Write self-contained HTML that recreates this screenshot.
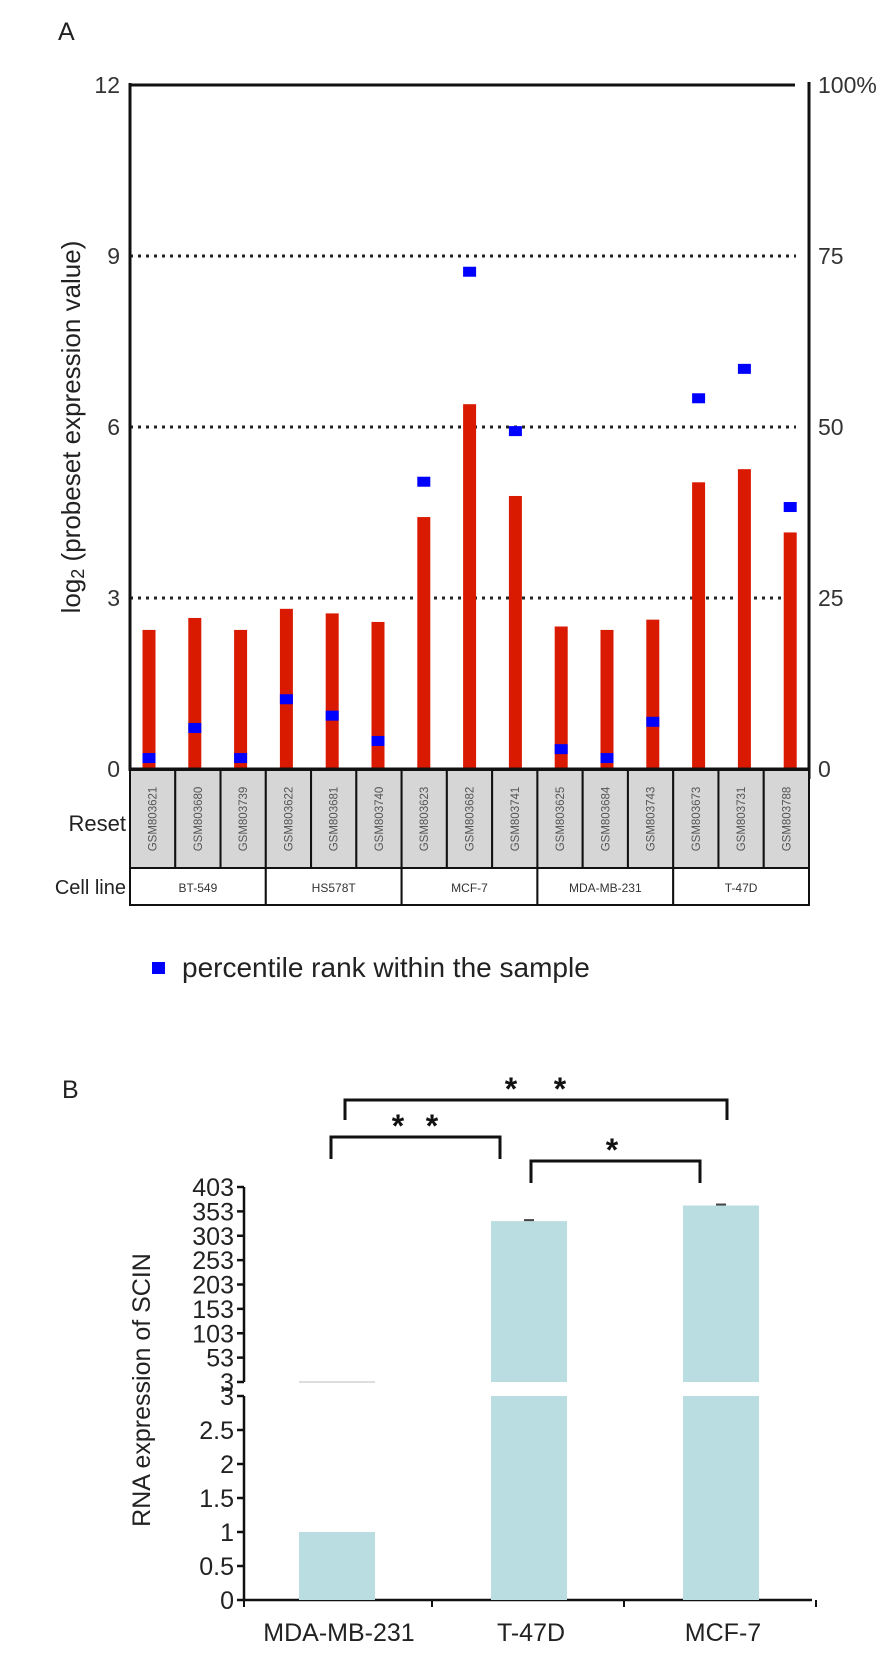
<!DOCTYPE html>
<html><head><meta charset="utf-8"><style>
html,body{margin:0;padding:0;background:#fff;}
svg{display:block;font-family:"Liberation Sans",sans-serif;}
</style></head><body>
<svg id="fig" width="891" height="1674" xmlns="http://www.w3.org/2000/svg">
<g id="panelA"></g>
<g id="panelB"></g>
</svg>
<script>
const samples=["GSM803621","GSM803680","GSM803739","GSM803622","GSM803681","GSM803740","GSM803623","GSM803682","GSM803741","GSM803625","GSM803684","GSM803743","GSM803673","GSM803731","GSM803788"];
const logValues=[2.44,2.65,2.44,2.81,2.73,2.58,4.42,6.4,4.79,2.5,2.44,2.62,5.03,5.26,4.15];
const percentiles=[1.6,6,1.6,10.2,7.8,4.1,42,72.7,49.4,2.9,1.6,6.9,54.2,58.5,38.3];
const cellLines=["BT-549","HS578T","MCF-7","MDA-MB-231","T-47D"];
const leftTicks=[0,3,6,9,12];
const rightTicks=["0","25","50","75","100%"];
const groupsB=["MDA-MB-231","T-47D","MCF-7"];
const valuesB=[1,333,365];
const upperTicks=[3,53,103,153,203,253,303,353,403];
const lowerTicks=[0,0.5,1,1.5,2,2.5,3];

const NS="http://www.w3.org/2000/svg";
function mk(parent,tag,attrs,text){const e=document.createElementNS(NS,tag);for(const k in attrs)e.setAttribute(k,attrs[k]);if(text!==undefined)e.textContent=text;parent.appendChild(e);return e;}

// ---------- Panel A ----------
const A=document.getElementById('panelA');
const ax0=130, ax1=809, y0=769, y12=85;
const yL=v=>y0-(v/12)*(y0-y12);
const yP=p=>y0-(p/100)*(y0-y12);
const cellW=(809-130)/15;
const xC=i=>149+i*45.8;

let t=mk(A,'text',{x:58,y:40,'font-size':25,fill:'#222'},'A');



leftTicks.forEach((v,i)=>{
  const y=yL(v);
  if(v>0&&v<12){const l=mk(A,'line',{x1:ax0,x2:796,y1:y,y2:y,stroke:'#222','stroke-width':3,'stroke-dasharray':'3 5'});
    
    }
  const tl=mk(A,'text',{x:120,y:y+8,'font-size':23,fill:'#333','text-anchor':'end'},String(v));
  
  
  const tr=mk(A,'text',{x:818,y:y+8,'font-size':23,fill:'#333'},rightTicks[i]);
  
  
});
let ln=mk(A,'line',{x1:ax0,x2:795,y1:y12,y2:y12,stroke:'#111','stroke-width':3});


ln=mk(A,'line',{x1:ax0,x2:ax0,y1:y12-2,y2:y0+2,stroke:'#111','stroke-width':3});


ln=mk(A,'line',{x1:ax1,x2:ax1,y1:y12-3,y2:y0+10,stroke:'#111','stroke-width':3});



t=mk(A,'text',{x:0,y:0,'font-size':26,fill:'#222','text-anchor':'middle',transform:'translate(80,427) rotate(-90)'});


t.innerHTML='log<tspan font-size="18" dy="4">2</tspan><tspan dy="-4"> (probeset expression value)</tspan>';

logValues.forEach((v,i)=>{
  const r=mk(A,'rect',{x:xC(i)-6.5,y:yL(v),width:13,height:y0-yL(v),fill:'#d91a00'});
  
  
});
percentiles.forEach((p,i)=>{
  const r=mk(A,'rect',{x:xC(i)-6.5,y:yP(p)-5,width:13,height:10,fill:'#0000ff'});
  
  
});
ln=mk(A,'line',{x1:ax0,x2:809,y1:y0,y2:y0,stroke:'#111','stroke-width':3});



// table
const tTop=770, tMid=868, tBot=905;
samples.forEach((s,i)=>{
  const x=130+i*cellW;
  const r=mk(A,'rect',{x:x,y:tTop,width:cellW,height:tMid-tTop,fill:'#d6d6d6',stroke:'#111','stroke-width':2});
  
  
  const tx=mk(A,'text',{x:0,y:0,'font-size':11.5,fill:'#555','text-anchor':'middle',transform:`translate(${x+cellW/2+4},${(tTop+tMid)/2}) rotate(-90)`},s);
  
  
});
cellLines.forEach((c,g)=>{
  const x=130+g*3*cellW;
  const r=mk(A,'rect',{x:x,y:tMid,width:3*cellW,height:tBot-tMid,fill:'#fff',stroke:'#111','stroke-width':2});
  
  
  const tx=mk(A,'text',{x:x+1.5*cellW,y:tMid+24,'font-size':12,fill:'#333','text-anchor':'middle'},c);
  
  
});
t=mk(A,'text',{x:126,y:831,'font-size':22,fill:'#222','text-anchor':'end'},'Reset');


t=mk(A,'text',{x:126,y:894,'font-size':20,fill:'#222','text-anchor':'end'},'Cell line');



let lg=mk(A,'rect',{x:152,y:962,width:13,height:12,fill:'#0000ff'});


t=mk(A,'text',{x:182,y:977,'font-size':28,fill:'#222'},'percentile rank within the sample');



// ---------- Panel B ----------
const B=document.getElementById('panelB');
const bx=244, xEnd=812;
const uTop=1187, uBot=1382, lTop=1396, lBot=1600;
const yU=v=>uBot-(v-3)/400*(uBot-uTop);
const yLo=v=>lBot-v/3*(lBot-lTop);
const barX=[299,491,683], barW=76;
const narrow='"Liberation Sans Narrow","Liberation Sans",sans-serif';

t=mk(B,'text',{x:62,y:1098,'font-size':25,fill:'#222'},'B');



ln=mk(B,'line',{x1:bx,x2:bx,y1:uTop,y2:uBot,stroke:'#111','stroke-width':2.5});


upperTicks.forEach(v=>{
  const y=yU(v);
  const tk=mk(B,'line',{x1:bx-7,x2:bx,y1:y,y2:y,stroke:'#111','stroke-width':2.5});
  
  
  const tl=mk(B,'text',{x:bx-10,y:y+9,'font-size':25,fill:'#222','text-anchor':'end','font-family':narrow},String(v));
  
  
});
ln=mk(B,'line',{x1:bx,x2:bx,y1:lTop,y2:lBot,stroke:'#111','stroke-width':2.5});


lowerTicks.forEach(v=>{
  const y=yLo(v);
  const tk=mk(B,'line',{x1:bx-7,x2:bx,y1:y,y2:y,stroke:'#111','stroke-width':2.5});
  
  
  const tl=mk(B,'text',{x:bx-10,y:y+9,'font-size':25,fill:'#222','text-anchor':'end','font-family':narrow},String(v));
  
  
});
ln=mk(B,'line',{x1:bx,x2:xEnd,y1:lBot,y2:lBot,stroke:'#111','stroke-width':2.5});



valuesB.forEach((v,i)=>{
  const x=barX[i];
  const lv=Math.min(v,3);
  const r=mk(B,'rect',{x:x,y:yLo(lv),width:barW,height:lBot-yLo(lv),fill:'#b9dde1'});
  
  
  if(v>3){
    const u=mk(B,'rect',{x:x,y:yU(v),width:barW,height:uBot-yU(v),fill:'#b9dde1'});
    
    
    const e=mk(B,'line',{x1:x+barW/2-5,x2:x+barW/2+5,y1:yU(v)-1,y2:yU(v)-1,stroke:'#444','stroke-width':2});
    
    
  } else {
    const u=mk(B,'line',{x1:x,x2:x+barW,y1:uBot,y2:uBot,stroke:'#ddd','stroke-width':2});
    
    
  }
  const tk=mk(B,'line',{x1:x+barW/2+95,x2:x+barW/2+95,y1:lBot,y2:lBot+7,stroke:'#111','stroke-width':2});
  
  
  const tl=mk(B,'text',{x:x+barW/2+2,y:lBot+41,'font-size':25,fill:'#222','text-anchor':'middle'},groupsB[i]);
  
  
});
let tk0=mk(B,'line',{x1:bx,x2:bx,y1:lBot,y2:lBot+7,stroke:'#111','stroke-width':2});



t=mk(B,'text',{x:0,y:0,'font-size':25,fill:'#222','text-anchor':'middle',transform:'translate(150,1390) rotate(-90)'},'RNA expression of SCIN');



function bracket(x1,x2,y,leg,stars,name){
  const p=mk(B,'path',{d:`M${x1},${y+leg} V${y} H${x2} V${y+leg}`,fill:'none',stroke:'#111','stroke-width':3});
  
  
  stars.forEach(sx=>{
    const s=mk(B,'text',{x:sx,y:y,'font-size':32,'font-weight':'bold',fill:'#111','text-anchor':'middle'},'*');
    
    
  });
}
bracket(345,727,1100,20,[511,560],'bracket-mda-mcf7');
bracket(331,500,1137,22,[398,432],'bracket-mda-t47d');
bracket(531,700,1161,22,[612],'bracket-t47d-mcf7');
</script>
</body></html>
